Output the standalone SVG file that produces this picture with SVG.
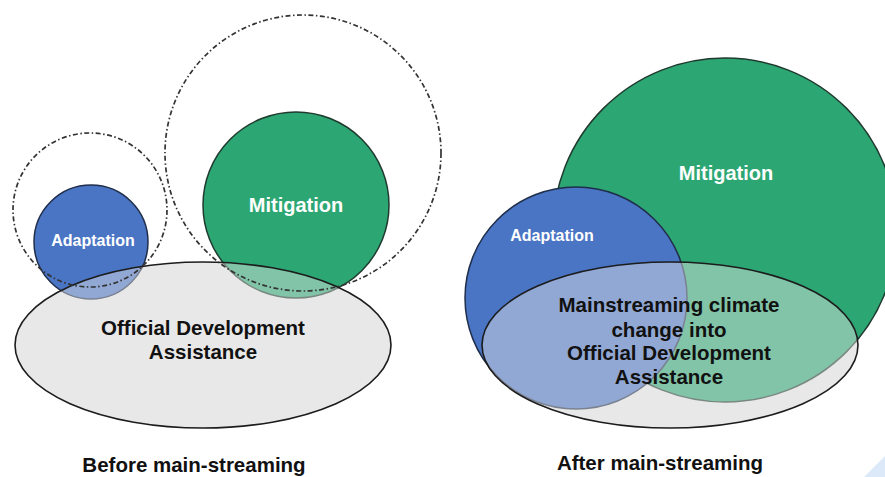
<svg xmlns="http://www.w3.org/2000/svg" width="885" height="477" viewBox="0 0 885 477">
<style>
.bg{fill:#e7e7e7;stroke:none}
.oda{fill:#e8e8e8;fill-opacity:0.45;stroke:#1c1c1c;stroke-width:1.6}
.blue{fill:#4a74c4;stroke:#1f2e4a;stroke-width:1.5}
.green{fill:#2ca673;stroke:#1f3a2e;stroke-width:1.5}
.dash{fill:none;stroke:#333;stroke-width:1.7;stroke-dasharray:5 2.5 1.5 2.5}
.w{font-family:"Liberation Sans",Arial,sans-serif;font-weight:bold;fill:#fff;text-anchor:middle}
.k{font-family:"Liberation Sans",Arial,sans-serif;font-weight:bold;fill:#111;text-anchor:middle;font-size:20.5px}
</style>
<rect width="885" height="477" fill="#fff"/>
<polygon points="864,477 885,456 885,477" fill="#dce9f8"/>
<g id="before">
  <ellipse class="bg" cx="203" cy="345" rx="188" ry="83"/>
  <g id="adaptation-before">
    <circle class="blue" cx="91" cy="242" r="57"/>
    <text class="w" x="93" y="246" font-size="16">Adaptation</text>
  </g>
  <g id="mitigation-before">
    <circle class="green" cx="296" cy="205" r="93"/>
    <text class="w" x="296" y="212" font-size="20">Mitigation</text>
  </g>
  <g id="oda-before">
    <ellipse class="oda" cx="203" cy="345" rx="188" ry="83"/>
    <text class="k" x="203" y="335">Official Development</text>
    <text class="k" x="203" y="359">Assistance</text>
  </g>
  <g id="dashed-before">
    <circle class="dash" cx="90" cy="210" r="77"/>
    <circle class="dash" cx="303" cy="153" r="138"/>
  </g>
  <text class="k" x="194" y="472">Before main-streaming</text>
</g>
<g id="after">
  <ellipse class="bg" cx="670" cy="345" rx="188" ry="83"/>
  <g id="mitigation-after">
    <circle class="green" cx="725" cy="230" r="172"/>
    <text class="w" x="726" y="180" font-size="20">Mitigation</text>
  </g>
  <g id="adaptation-after">
    <circle class="blue" cx="576" cy="298" r="111"/>
    <text class="w" x="552" y="241" font-size="16">Adaptation</text>
  </g>
  <g id="oda-after">
    <ellipse class="oda" cx="670" cy="345" rx="188" ry="83"/>
    <text class="k" x="669" y="312">Mainstreaming climate</text>
    <text class="k" x="669" y="337">change into</text>
    <text class="k" x="669" y="360">Official Development</text>
    <text class="k" x="669" y="384">Assistance</text>
  </g>
  <text class="k" x="660" y="470">After main-streaming</text>
</g>
</svg>
